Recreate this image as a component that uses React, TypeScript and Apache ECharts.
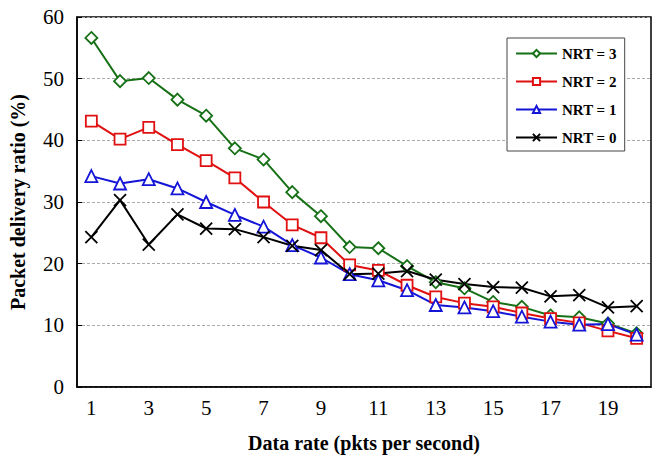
import React, { useEffect, useRef } from "react";
import * as echarts from "echarts";

// Data rate (packets per second)
const rates = ["1", "2", "3", "4", "5", "6", "7", "8", "9", "10", "11", "12", "13", "14", "15", "16", "17", "18", "19", "20"];

// Packet delivery ratio (%) for each retransmission count
const nrt3 = [56.6, 49.6, 50.1, 46.6, 44.0, 38.7, 36.9, 31.6, 27.7, 22.7, 22.5, 19.6, 17.0, 16.0, 13.8, 13.0, 11.6, 11.3, 10.3, 8.7];
const nrt2 = [43.1, 40.2, 42.1, 39.3, 36.7, 33.9, 30.0, 26.3, 24.2, 19.8, 18.9, 16.5, 14.6, 13.6, 13.0, 12.0, 11.1, 10.4, 9.1, 7.9];
const nrt1 = [34.2, 33.0, 33.7, 32.2, 30.0, 27.9, 26.0, 23.0, 21.0, 18.3, 17.3, 15.7, 13.3, 12.9, 12.3, 11.4, 10.6, 10.1, 10.2, 8.5];
const nrt0 = [24.3, 30.3, 23.1, 28.0, 25.7, 25.6, 24.3, 22.9, 22.2, 18.3, 18.4, 18.8, 17.4, 16.7, 16.2, 16.1, 14.7, 14.9, 12.9, 13.1];

const yTicks = [0, 10, 20, 30, 40, 50, 60];

const FONT = "Liberation Serif";
const GREEN = "#167016";
const RED = "#e01010";
const BLUE = "#1515d8";
const BLACK = "#000000";

const crossSymbol = "path://M0,0L10,10M10,0L0,10";

function lineSeries(name: string, data: number[], color: string, symbol: string, size: number) {
  return {
    name,
    type: "line",
    data,
    symbol,
    symbolSize: size,
    showAllSymbol: true,
    lineStyle: { color, width: 2 },
    itemStyle: { color: symbol === crossSymbol ? "none" : "#ffffff", borderColor: color, borderWidth: 1.8 },
    emphasis: { disabled: true },
  };
}

export default function App() {
  const ref = useRef<HTMLDivElement>(null);

  useEffect(() => {
    if (!ref.current) return;
    const chart = echarts.init(ref.current, null, { renderer: "svg" });
    chart.setOption({
      animation: false,
      backgroundColor: "#ffffff",
      textStyle: { fontFamily: FONT },
      grid: {
        left: 77,
        right: 8,
        top: 17,
        bottom: 71,
        show: true,
        borderColor: "#000",
        borderWidth: 1.5,
        backgroundColor: "transparent",
      },
      legend: {
        orient: "vertical",
        left: 507,
        top: 38,
        padding: [8, 8, 6, 8],
        itemGap: 13,
        itemWidth: 41,
        itemHeight: 9,
        borderColor: "#444",
        borderWidth: 1,
        backgroundColor: "#ffffff",
        textStyle: { fontFamily: FONT, fontWeight: "bold", fontSize: 15, color: "#000" },
        data: ["NRT = 3", "NRT = 2", "NRT = 1", "NRT = 0"],
      },
      xAxis: {
        type: "category",
        data: rates,
        boundaryGap: true,
        name: "Data rate (pkts per second)",
        nameLocation: "middle",
        nameGap: 46,
        nameTextStyle: { fontFamily: FONT, fontWeight: "bold", fontSize: 20, color: "#000" },
        axisLine: { lineStyle: { color: "#000", width: 1.5 } },
        axisTick: { inside: true, length: 5, interval: 0, lineStyle: { color: "#000", width: 1 } },
        axisLabel: { interval: 1, margin: 10, fontFamily: FONT, fontSize: 21, color: "#000" },
        splitLine: { show: false },
      },
      yAxis: {
        type: "value",
        min: yTicks[0],
        max: yTicks[yTicks.length - 1],
        interval: 10,
        name: "Packet delivery ratio (%)",
        nameLocation: "middle",
        nameGap: 49,
        nameTextStyle: { fontFamily: FONT, fontWeight: "bold", fontSize: 20, color: "#000" },
        axisLine: { show: true, lineStyle: { color: "#000", width: 1.5 } },
        axisTick: { show: true, inside: true, length: 5, lineStyle: { color: "#000", width: 1 } },
        axisLabel: { margin: 13, fontFamily: FONT, fontSize: 21, color: "#000" },
        splitLine: { show: true, lineStyle: { color: "#aaaaaa", width: 1, type: [3, 2] } },
      },
      series: [
        lineSeries("NRT = 3", nrt3, GREEN, "diamond", 12),
        lineSeries("NRT = 2", nrt2, RED, "rect", 11),
        lineSeries("NRT = 1", nrt1, BLUE, "triangle", 12),
        lineSeries("NRT = 0", nrt0, BLACK, crossSymbol, 12),
      ],
    });
    return () => chart.dispose();
  }, []);

  return <div ref={ref} style={{ width: 659, height: 458, position: "absolute", left: 0, top: 0 }} />;
}
